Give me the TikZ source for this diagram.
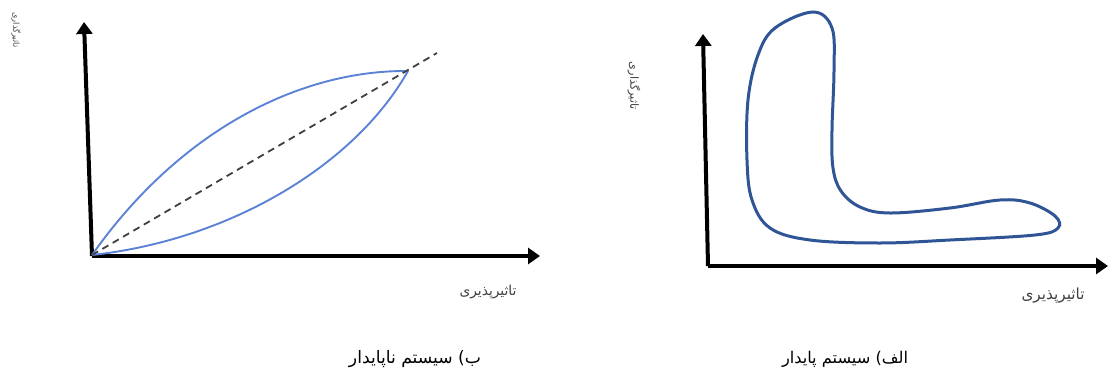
\documentclass[tikz,border=0pt]{standalone}
\usepackage{fontspec}
\usepackage{graphicx}
\usetikzlibrary{arrows.meta}
\newfontfamily\fa[Script=Arabic]{DejaVu Sans}
\TeXXeTstate=1
\definecolor{lblue}{HTML}{5B82D4}
\definecolor{dblue}{HTML}{2F5597}
\definecolor{dgray}{HTML}{404040}
\newcommand{\faw}[1]{\mbox{\fa\beginR #1\endR}}
\tikzset{
  axisline/.style={line width=4pt, -{Triangle[length=12pt,width=16pt]}},
  curveline/.style={lblue, line width=1.9pt},
  loopline/.style={dblue, line width=3pt},
  diagline/.style={dgray, line width=1.8pt, dash pattern=on 7pt off 5pt},
  lbl/.style={inner sep=0pt, text=black!75},
  caption/.style={inner sep=0pt, text=black}
}
\begin{document}
\begin{tikzpicture}[x=1pt,y=-1pt]
\useasboundingbox (0,0) rectangle (1108,372);
% ---------- left plot ----------
\coordinate (oL) at (92,256);
\coordinate (yL) at (84,22);
\coordinate (xL) at (540,256);
\coordinate (sL) at (92,255);
\coordinate (eL) at (408,71);
\coordinate (dL) at (437,53);
\draw[axisline] (oL) -- (yL);
\draw[axisline] (oL) -- (xL);
\draw[curveline] (sL) .. controls (180,130) and (300,70) .. (eL);
\draw[curveline] (sL) .. controls (230,240) and (355,165) .. (eL);
\draw[diagline] (sL) -- (dL);
\node[lbl, rotate=-90] (vlabL) at (16,30) {\resizebox{35pt}{!}{\faw{تاثیرگذاری}}};
\node[lbl] (hlabL) at (488,292) {\resizebox{57pt}{!}{\faw{تاثیرپذیری}}};
\node[caption] (capL) at (415,359) {\resizebox{132pt}{!}{\faw{ب) سیستم ناپایدار}}};
% ---------- right plot ----------
\coordinate (oR) at (708,266);
\coordinate (yR) at (703,34);
\coordinate (xR) at (1108,266);
\draw[axisline] (oR) -- (yR);
\draw[axisline] (oR) -- (xR);
\draw[loopline] plot[smooth cycle, tension=0.6] coordinates {
 (813,12) (832,28) (834,70) (832,130) (833,168) (841,191) (860,207)
 (890,213) (950,208) (1000,200) (1030,203) (1055,216) (1058,228) (1035,235)
 (950,240) (880,243) (810,240) (770,228) (752,200) (747,160)
 (748,100) (758,55) (775,28)};
\node[lbl, rotate=-90] (vlabR) at (634,86) {\resizebox{48pt}{!}{\faw{تاثیرگذاری}}};
\node[lbl] (hlabR) at (1053,296) {\resizebox{63pt}{!}{\faw{تاثیرپذیری}}};
\node[caption] (capR) at (845,359) {\resizebox{126pt}{!}{\faw{الف) سیستم پایدار}}};
\end{tikzpicture}
\end{document}
